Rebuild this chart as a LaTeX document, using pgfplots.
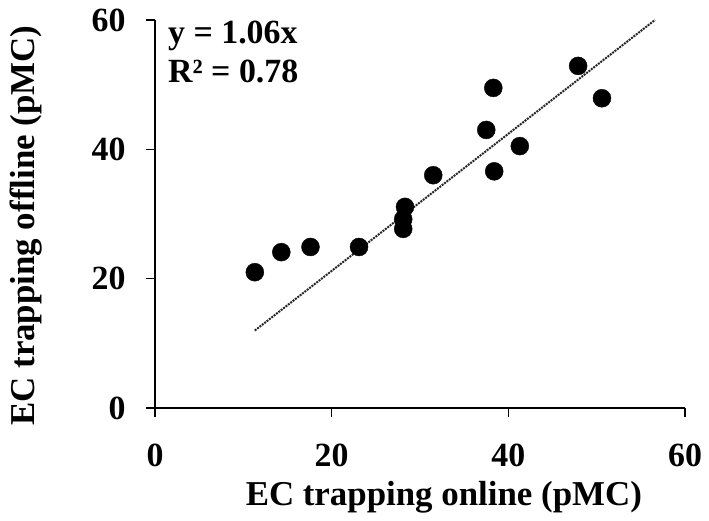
\documentclass[border=0pt]{standalone}
\usepackage{fontspec}
\setmainfont{Liberation Serif}
\usepackage{pgfplots}
\pgfplotsset{compat=1.18}

% EC trapping: online vs offline (pMC)
\pgfplotstableread{
x y
11.3 21.0
14.3 24.1
17.6 24.9
23.1 24.9
28.3 31.1
28.1 29.2
28.1 27.7
31.5 36.0
37.5 43.0
38.3 49.5
38.4 36.6
41.3 40.5
47.9 52.9
50.6 47.9
}\ecdata

\begin{document}
\begin{tikzpicture}
\begin{axis}[
  scale only axis,
  width=530bp, height=388bp,
  xmin=0, xmax=60, ymin=0, ymax=60,
  xtick={0,20,40,60}, ytick={0,20,40,60},
  axis lines*=left,
  axis line style={line width=1.5bp},
  tick style={line width=1.5bp, black},
  tick align=outside,
  major tick length=9bp,
  clip=false,
  /pgf/number format/assume math mode=true,
  ticklabel style={font=\fontsize{34}{38}\selectfont\bfseries},
  xticklabel style={anchor=center, yshift=-38bp},
  yticklabel style={anchor=east, xshift=-17bp},
  xlabel={EC trapping online (pMC)},
  ylabel={EC trapping offline (pMC)},
  label style={font=\fontsize{35}{38}\selectfont\bfseries},
  xlabel style={at={(axis description cs:0.545,0)}, anchor=center, yshift=-89bp},
  ylabel style={at={(axis description cs:-0.243,0.47)}, anchor=center, rotate=0},
]
\addplot[only marks, mark=*, mark size=9bp, black] table {\ecdata};
% linear fit through origin
\addplot[densely dotted, line width=2bp, black!85] coordinates {(11.3,11.98) (56.6,60)};
\node[anchor=base west, font=\fontsize{34}{39}\selectfont\bfseries, inner sep=0pt]
  at (axis cs:1.47,56.44) {y = 1.06x};
\node[anchor=base west, font=\fontsize{34}{39}\selectfont\bfseries, inner sep=0pt]
  at (axis cs:1.47,50.41) {R² = 0.78};
\end{axis}
\pgfresetboundingbox
\useasboundingbox (-155bp,-113bp) rectangle (554bp,408bp);
\end{tikzpicture}
\end{document}
